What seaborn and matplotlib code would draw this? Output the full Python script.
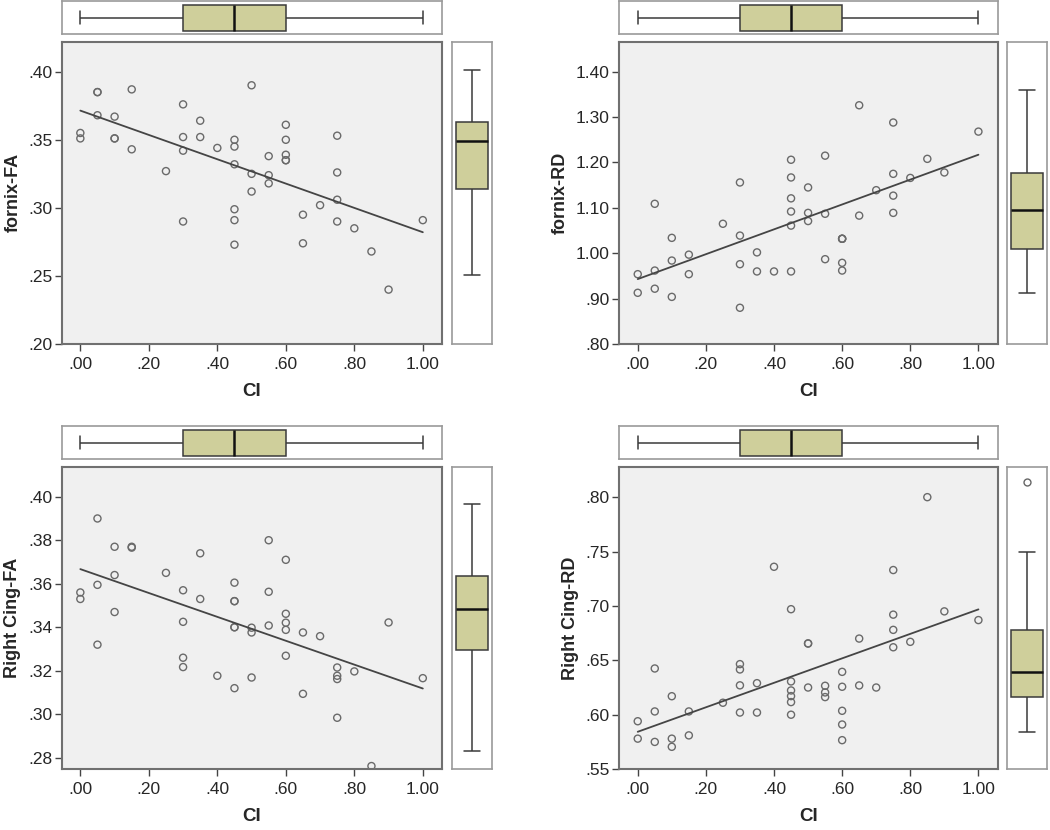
import matplotlib
matplotlib.use("Agg")
import matplotlib.pyplot as plt
import matplotlib.ticker as mticker
import seaborn as sns

# CI score per subject (same subjects in every panel)
ci = [0.00, 0.00, 0.05, 0.05, 0.05, 0.10, 0.10, 0.10, 0.15, 0.15, 0.25,
      0.30, 0.30, 0.30, 0.30, 0.35, 0.35, 0.40,
      0.45, 0.45, 0.45, 0.45, 0.45, 0.45, 0.50, 0.50, 0.50,
      0.55, 0.55, 0.55, 0.60, 0.60, 0.60, 0.60, 0.60, 0.65, 0.65, 0.70,
      0.75, 0.75, 0.75, 0.75, 0.80, 0.85, 0.90, 1.00]

fornix_fa = [0.355, 0.351, 0.385, 0.385, 0.368, 0.367, 0.351, 0.351, 0.387, 0.343, 0.327,
             0.376, 0.352, 0.342, 0.290, 0.364, 0.352, 0.344,
             0.350, 0.345, 0.332, 0.299, 0.291, 0.273, 0.390, 0.325, 0.312,
             0.338, 0.324, 0.318, 0.361, 0.350, 0.339, 0.335, 0.335, 0.295, 0.274, 0.302,
             0.353, 0.326, 0.306, 0.290, 0.285, 0.268, 0.240, 0.291]

fornix_rd = [0.954, 0.913, 1.109, 0.962, 0.922, 1.034, 0.984, 0.904, 0.997, 0.954, 1.065,
             1.156, 1.039, 0.976, 0.880, 1.002, 0.960, 0.960,
             1.206, 1.167, 1.121, 1.092, 1.061, 0.960, 1.145, 1.089, 1.071,
             1.215, 1.087, 0.987, 1.032, 1.032, 1.032, 0.979, 0.962, 1.326, 1.083, 1.139,
             1.288, 1.175, 1.127, 1.089, 1.166, 1.208, 1.178, 1.268]

cing_fa = [0.356, 0.353, 0.390, 0.3595, 0.332, 0.377, 0.364, 0.347, 0.377, 0.3766, 0.365,
           0.357, 0.3425, 0.326, 0.3217, 0.374, 0.353, 0.3177,
           0.3605, 0.352, 0.352, 0.340, 0.340, 0.312, 0.3398, 0.3376, 0.3169,
           0.380, 0.3563, 0.3408, 0.371, 0.3462, 0.3421, 0.3388, 0.3269, 0.3376, 0.3094, 0.3359,
           0.3215, 0.3177, 0.3162, 0.2984, 0.3197, 0.2762, 0.3422, 0.3166]

cing_rd = [0.594, 0.578, 0.6425, 0.603, 0.575, 0.617, 0.578, 0.5705, 0.603, 0.581, 0.611,
           0.6465, 0.6416, 0.627, 0.602, 0.629, 0.602, 0.736,
           0.697, 0.6306, 0.6223, 0.6171, 0.6116, 0.600, 0.6655, 0.6655, 0.625,
           0.6266, 0.6205, 0.6162, 0.6394, 0.6257, 0.6036, 0.591, 0.5766, 0.670, 0.6269, 0.625,
           0.733, 0.692, 0.678, 0.662, 0.667, 0.800, 0.695, 0.687]

x_ticks = [0.0, 0.2, 0.4, 0.6, 0.8, 1.0]
panels = [
    ("fornix-FA", fornix_fa, (0.20, 0.422), [0.20, 0.25, 0.30, 0.35, 0.40]),
    ("fornix-RD", fornix_rd, (0.80, 1.466), [0.80, 0.90, 1.00, 1.10, 1.20, 1.30, 1.40]),
    ("Right Cing-FA", cing_fa, (0.2748, 0.4138), [0.28, 0.30, 0.32, 0.34, 0.36, 0.38, 0.40]),
    ("Right Cing-RD", cing_rd, (0.55, 0.828), [0.55, 0.60, 0.65, 0.70, 0.75, 0.80]),
]

sns.set_style("white")
plt.rcParams["font.family"] = ["Liberation Sans", "DejaVu Sans"]

W, H = 1050, 830
fig = plt.figure(figsize=(W / 100, H / 100), dpi=100)


def rect(x0, y0, w, h):
    return [x0 / W, 1 - (y0 + h) / H, w / W, h / H]


def fmt(v, pos):
    s = "%.2f" % v
    return s[1:] if s.startswith("0") else s


col_x = [61.5, 619.0]
col_w = [380.5, 378.5]
rbox_x = [451.7, 1007.3]
row_y = [41.7, 466.7]
tbox_y = [1.5, 426.5]
box_col = "#CFCF9B"
xlim = (-0.055, 1.056)

for i, (label, vals, ylim, yt) in enumerate(panels):
    c, r = i % 2, i // 2
    ax = fig.add_axes(rect(col_x[c], row_y[r], col_w[c], 302.4))
    tax = fig.add_axes(rect(col_x[c], tbox_y[r], col_w[c], 32.5))
    rax = fig.add_axes(rect(rbox_x[c], row_y[r], 40, 302.4))

    sns.regplot(x=ci, y=vals, ax=ax, ci=None,
                scatter_kws=dict(s=26, facecolors="none", edgecolors="#6a6a6a",
                                 linewidths=1.0, alpha=1),
                line_kws=dict(color="#454545", lw=1.3))
    ax.set_facecolor("#F0F0F0")
    ax.set_xlim(xlim)
    ax.set_ylim(ylim)
    ax.set_xticks(x_ticks)
    ax.set_yticks(yt)
    ax.xaxis.set_major_formatter(mticker.FuncFormatter(fmt))
    ax.yaxis.set_major_formatter(mticker.FuncFormatter(fmt))
    ax.tick_params(direction="out", length=5, width=1, color="#444444",
                   labelsize=12.5, left=True, bottom=True)
    ax.tick_params(axis="y", pad=1.5)
    ax.tick_params(axis="x", pad=4)
    for sp in ax.spines.values():
        sp.set_color("#707070")
        sp.set_linewidth(1.5)
    ax.set_xlabel("CI", fontsize=13.5, fontweight="bold", labelpad=8)
    ax.set_ylabel(label, fontsize=13, fontweight="bold", labelpad=5)

    bkw = dict(color=box_col, saturation=1, width=0.8, linecolor="#3a3a3a",
               linewidth=1.1, whis=1.5,
               medianprops=dict(color="#111111", linewidth=1.8),
               flierprops=dict(marker="o", markerfacecolor="none",
                               markeredgecolor="#666666", markersize=5))
    sns.boxplot(x=ci, ax=tax, orient="h", **bkw)
    tax.set_xlim(xlim)
    tax.set_ylim(0.5, -0.5)

    sns.boxplot(y=vals, ax=rax, orient="v", **bkw)
    rax.set_xlim(-0.5, 0.5)
    shift = 0.049 * (ylim[1] - ylim[0])
    rax.set_ylim(ylim[0] - shift, ylim[1] - shift)

    for m in (tax, rax):
        m.set_facecolor("white")
        m.set_xticks([])
        m.set_yticks([])
        m.set_xlabel("")
        m.set_ylabel("")
        for sp in m.spines.values():
            sp.set_visible(True)
            sp.set_color("#9a9a9a")
            sp.set_linewidth(1.2)

fig.savefig("out.png", dpi=100)
